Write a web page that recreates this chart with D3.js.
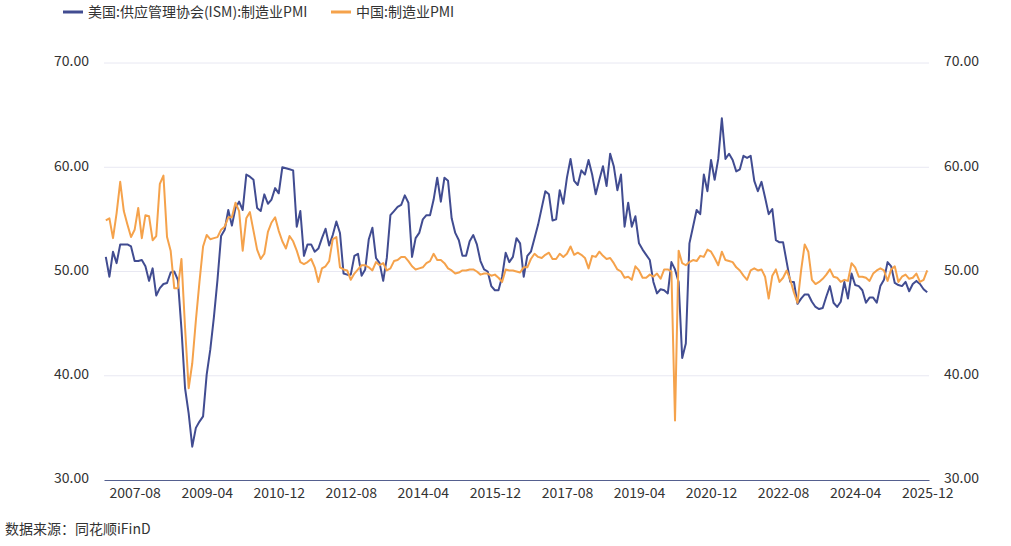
<!DOCTYPE html>
<html>
<head>
<meta charset="utf-8">
<script src="https://cdn.jsdelivr.net/npm/d3@7"></script>
<style>
  body { margin: 0; background: #fff; }
  svg text { font-family: "Noto Sans CJK SC", "Noto Sans", sans-serif; }
</style>
</head>
<body>
<svg id="chart" width="1011" height="546"></svg>
<script>
// Months run from 2006-12 to 2025-12
const startYear = 2006, startMonth = 12, monthCount = 229;

// 美国:供应管理协会(ISM):制造业PMI
const ismValues = [
  51.4,
  49.5, 51.9, 50.8, 52.6, 52.6, 52.6, 52.4, 51.0, 51.0, 51.1, 50.5, 49.1,
  50.3, 47.7, 48.4, 48.8, 48.9, 49.9, 50.0, 49.2, 44.5, 38.8, 36.4, 33.2,
  35.0, 35.6, 36.1, 40.1, 42.5, 45.6, 49.2, 53.4, 54.0, 55.9, 54.4, 56.1,
  56.7, 55.9, 59.3, 59.1, 58.8, 56.1, 55.8, 57.4, 56.5, 56.9, 58.0, 57.5,
  60.0, 59.9, 59.8, 59.7, 54.3, 55.8, 51.5, 52.6, 52.6, 51.9, 52.2, 53.2,
  54.1, 52.5, 53.5, 54.8, 53.7, 49.8, 49.7, 49.7, 51.5, 51.7, 49.6, 50.2,
  53.1, 54.2, 51.3, 50.8, 49.1, 51.3, 55.4, 55.8, 56.2, 56.4, 57.3, 56.6,
  51.4, 53.2, 53.7, 55.0, 55.4, 55.4, 56.9, 59.0, 56.7, 59.0, 58.7, 55.1,
  53.7, 53.0, 51.5, 51.5, 52.9, 53.5, 52.6, 51.0, 50.2, 50.0, 48.6, 48.2,
  48.2, 49.5, 51.8, 50.9, 51.4, 53.2, 52.7, 49.5, 51.5, 51.9, 53.2, 54.5,
  56.1, 57.7, 57.4, 54.9, 55.0, 57.8, 56.5, 59.0, 60.8, 58.7, 58.3, 59.7,
  59.3, 60.7, 59.3, 57.4, 58.8, 60.1, 58.2, 61.3, 60.1, 57.8, 59.3, 54.3,
  56.6, 54.3, 55.3, 52.7, 52.1, 51.6, 51.1, 49.0, 47.9, 48.3, 48.2, 47.9,
  50.9, 50.2, 49.0, 41.7, 43.1, 52.7, 54.3, 55.9, 55.5, 59.3, 57.7, 60.7,
  58.8, 60.8, 64.7, 60.8, 61.3, 60.7, 59.6, 59.8, 61.1, 60.9, 61.1, 58.7,
  57.7, 58.6, 57.1, 55.5, 56.0, 53.0, 52.8, 52.8, 50.9, 49.0, 49.0, 46.9,
  47.4, 47.8, 47.8, 47.1, 46.6, 46.4, 46.5, 47.6, 48.6, 47.0, 46.6, 47.1,
  49.0, 47.4, 49.8, 48.7, 48.6, 48.2, 47.0, 47.5, 47.5, 47.0, 48.6, 49.2,
  50.9, 50.5, 48.9, 48.7, 48.6, 49.0, 48.1, 48.8, 49.1, 48.8, 48.3, 48.0
];

// 中国:制造业PMI
const chinaValues = [
  54.9,
  55.1, 53.2, 55.6, 58.6, 55.8, 54.5, 53.3, 54.0, 56.1, 53.2, 55.4, 55.3,
  53.0, 53.4, 58.4, 59.2, 53.3, 52.0, 48.4, 48.4, 51.2, 44.6, 38.8, 41.2,
  45.3, 49.0, 52.4, 53.5, 53.1, 53.2, 53.3, 54.0, 54.3, 55.2, 55.2, 56.6,
  55.8, 52.0, 55.1, 55.7, 53.9, 52.1, 51.2, 51.7, 53.8, 54.7, 55.2, 53.9,
  52.9, 52.2, 53.4, 52.9, 52.0, 50.9, 50.7, 50.9, 51.2, 50.4, 49.0, 50.3,
  50.5, 51.0, 53.1, 53.3, 50.4, 50.2, 50.1, 49.2, 49.8, 50.2, 50.6, 50.6,
  50.4, 50.1, 50.9, 50.6, 50.8, 50.1, 50.3, 51.0, 51.1, 51.4, 51.4, 51.0,
  50.5, 50.2, 50.3, 50.4, 50.8, 51.0, 51.7, 51.1, 51.1, 50.8, 50.3, 50.1,
  49.8, 49.9, 50.1, 50.1, 50.2, 50.2, 50.0, 49.7, 49.8, 49.8, 49.6, 49.7,
  49.4, 49.0, 50.2, 50.1, 50.1, 50.0, 49.9, 50.4, 50.4, 51.2, 51.7, 51.4,
  51.3, 51.6, 51.8, 51.2, 51.2, 51.7, 51.4, 51.7, 52.4, 51.6, 51.8, 51.6,
  51.3, 50.3, 51.5, 51.4, 51.9, 51.5, 51.2, 51.3, 50.8, 50.2, 50.0, 49.4,
  49.5, 49.2, 50.5, 50.1, 49.4, 49.4, 49.7, 49.5, 49.8, 49.3, 50.2, 50.2,
  50.0, 35.7, 52.0, 50.8, 50.6, 50.9, 51.1, 51.0, 51.5, 51.4, 52.1, 51.9,
  51.3, 50.6, 51.9, 51.1, 51.0, 50.9, 50.4, 50.1, 49.6, 49.2, 50.1, 50.3,
  50.1, 50.2, 49.5, 47.4, 49.6, 50.2, 49.0, 49.4, 50.1, 49.2, 48.0, 47.0,
  50.1, 52.6, 51.9, 49.2, 48.8, 49.0, 49.3, 49.7, 50.2, 49.5, 49.4, 49.0,
  49.2, 49.1, 50.8, 50.4, 49.5, 49.5, 49.4, 49.1, 49.8, 50.1, 50.3, 50.1,
  49.1, 50.2, 50.5, 49.0, 49.5, 49.7, 49.3, 49.4, 49.8, 49.0, 49.2, 50.1
];

const xTickLabels = ['2007-08', '2009-04', '2010-12', '2012-08', '2014-04', '2015-12',
  '2017-08', '2019-04', '2020-12', '2022-08', '2024-04', '2025-12'];
const yTicks = [30, 40, 50, 60, 70];

const seriesNames = ['美国:供应管理协会(ISM):制造业PMI', '中国:制造业PMI'];
const seriesColors = ['#414c91', '#f5a24b'];

const months = d3.range(monthCount).map(i => {
  const m = startMonth - 1 + i;
  const y = startYear + Math.floor(m / 12);
  return `${y}-${String(m % 12 + 1).padStart(2, '0')}`;
});

const svg = d3.select('#chart');
const plot = { left: 104, right: 929, top: 63, bottom: 480 };

const xScale = d3.scalePoint()
  .domain(months)
  .range([plot.left, plot.right])
  .padding(0.5);

const yScale = d3.scaleLinear()
  .domain([30, 70])
  .range([plot.bottom, plot.top]);

// Grid lines
svg.append('g')
  .selectAll('line')
  .data(yTicks.filter(d => d > 30))
  .join('line')
    .attr('x1', plot.left)
    .attr('x2', plot.right)
    .attr('y1', d => yScale(d))
    .attr('y2', d => yScale(d))
    .attr('stroke', '#e8e8f2')
    .attr('stroke-width', 1);

// Left and right axes (labels only)
const leftAxis = svg.append('g')
  .attr('transform', `translate(${plot.left - 12},-1.5)`)
  .call(d3.axisLeft(yScale).tickValues(yTicks).tickFormat(d3.format('.2f')).tickSize(0));
const rightAxis = svg.append('g')
  .attr('transform', `translate(${plot.right + 12},-1.5)`)
  .call(d3.axisRight(yScale).tickValues(yTicks).tickFormat(d3.format('.2f')).tickSize(0));
[leftAxis, rightAxis].forEach(g => {
  g.select('.domain').remove();
  g.selectAll('text')
    .attr('fill', '#333')
    .style('font-size', '14px')
    .style('font-family', '"Noto Sans CJK SC", "Noto Sans", sans-serif');
});

// Bottom axis
const xAxisG = svg.append('g')
  .attr('transform', `translate(0,${plot.bottom})`)
  .call(d3.axisBottom(xScale).tickValues(xTickLabels).tickSize(0).tickPadding(8));
xAxisG.select('.domain')
  .attr('stroke', '#55608f')
  .attr('stroke-width', 1.2);
xAxisG.selectAll('text')
  .attr('fill', '#333')
  .style('font-size', '14px')
  .style('font-family', '"Noto Sans CJK SC", "Noto Sans", sans-serif');

// Lines
const line = d3.line()
  .x((d, i) => xScale(months[i]))
  .y(d => yScale(d));

svg.append('path')
  .datum(ismValues)
  .attr('fill', 'none')
  .attr('stroke', seriesColors[0])
  .attr('stroke-width', 2)
  .attr('stroke-linejoin', 'round')
  .attr('d', line);

svg.append('path')
  .datum(chinaValues)
  .attr('fill', 'none')
  .attr('stroke', seriesColors[1])
  .attr('stroke-width', 2)
  .attr('stroke-linejoin', 'round')
  .attr('d', line);

// Legend
const legendX = [63, 331];
const legend = svg.append('g');
seriesNames.forEach((name, i) => {
  legend.append('line')
    .attr('x1', legendX[i]).attr('x2', legendX[i] + 20)
    .attr('y1', 12).attr('y2', 12)
    .attr('stroke', seriesColors[i])
    .attr('stroke-width', 3);
  legend.append('text')
    .attr('x', legendX[i] + 25)
    .attr('y', 12)
    .attr('dy', '0.35em')
    .attr('fill', '#333')
    .style('font-size', '14px')
    .text(name);
});

// Source note
svg.append('text')
  .attr('x', 5)
  .attr('y', 529)
  .attr('dy', '0.35em')
  .attr('fill', '#333')
  .style('font-size', '14px')
  .text('数据来源：同花顺iFinD');
</script>
</body>
</html>
